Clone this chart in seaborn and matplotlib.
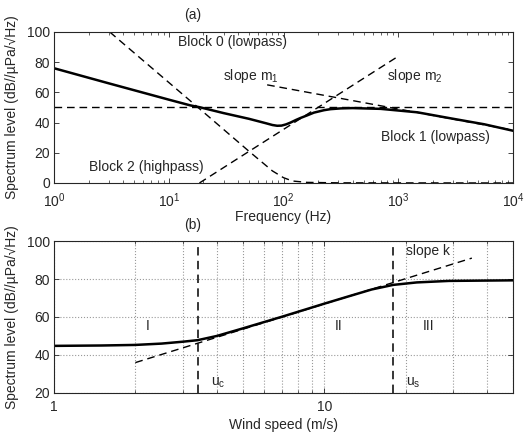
import numpy as np
import seaborn as sns
from matplotlib import pyplot as plt
from matplotlib.ticker import LogLocator, NullFormatter


# panel (a) - spectrum blocks
freq_total = [1, 3, 10, 15.4, 18.8, 30, 50, 70, 80, 88, 96, 105, 115, 128, 140, 161, 184,
              225, 257, 315, 400, 700, 1000, 1470, 2870, 5600, 10000]
level_total = [76, 66, 55.2, 51.4, 50.1, 46.3, 42.5, 39.6, 38.4, 37.9, 38.0, 38.8, 40.0,
               41.7, 43.0, 44.8, 46.6, 48.2, 48.9, 49.4, 49.6, 49.1, 48.0, 46.8, 42.8,
               38.9, 34.6]

freq_block0 = [3.06, 18, 50, 80, 100, 120, 160, 300, 10000]
level_block0 = [100, 50, 21, 8, 3.5, 1.3, 0.4, 0.1, 0]

freq_block2 = [18.5, 984]
level_block2 = [0, 83.6]

freq_m1 = [72, 10000]
level_m1 = [65, 35]

flat_level = 50

# panel (b) - wind speed dependence
wind = [1, 1.5, 2, 2.5, 3, 3.4, 4, 5, 7, 10, 12.4, 15, 18, 22, 29, 50]
level_wind = [44.8, 45.0, 45.3, 46.0, 47.0, 47.8, 50.0, 54.0, 60.2, 67.0, 71.0,
              74.5, 76.9, 78.2, 79.0, 79.3]

wind_k = [2, 35.2]
level_k = [36, 91]

u_c = 3.4
u_s = 18


sns.set_style("ticks")
plt.rcParams['font.family'] = ['Liberation Sans', 'DejaVu Sans']
plt.rcParams['font.size'] = 10
plt.rcParams['mathtext.default'] = 'regular'
plt.rcParams['lines.dashed_pattern'] = [5.5, 3.5]
plt.rcParams['xtick.direction'] = 'in'
plt.rcParams['ytick.direction'] = 'in'
plt.rcParams['xtick.top'] = True
plt.rcParams['ytick.right'] = True
plt.rcParams['xtick.major.size'] = 3.5
plt.rcParams['ytick.major.size'] = 3.5
plt.rcParams['xtick.minor.size'] = 2
plt.rcParams['xtick.major.width'] = 0.6
plt.rcParams['ytick.major.width'] = 0.6
plt.rcParams['xtick.minor.width'] = 0.5
plt.rcParams['axes.linewidth'] = 0.8
plt.rcParams['xtick.major.pad'] = 5
plt.rcParams['ytick.major.pad'] = 3

fig = plt.figure(figsize=(5.25, 4.33), dpi=100)
ax1 = fig.add_axes([0.1029, 0.5774, 0.8743, 0.3487])
ax2 = fig.add_axes([0.1029, 0.0924, 0.8743, 0.3510])

ylabel = 'Spectrum level (dB//\u00b5Pa/\u221aHz)'


##
# panel (a)
##
ax1.set_xscale('log')
ax1.axhline(flat_level, color='k', lw=1, ls='--')
sns.lineplot(x=freq_block0, y=level_block0, ax=ax1, color='k', lw=1, ls='--',
             estimator=None, sort=False)
sns.lineplot(x=freq_block2, y=level_block2, ax=ax1, color='k', lw=1, ls='--',
             estimator=None, sort=False)
sns.lineplot(x=freq_m1, y=level_m1, ax=ax1, color='k', lw=1, ls='--',
             estimator=None, sort=False)
sns.lineplot(x=freq_total, y=level_total, ax=ax1, color='k', lw=1.8,
             estimator=None, sort=False)

ax1.set_xlim(1, 1e4)
ax1.set_ylim(0, 100)
ax1.set_yticks(np.arange(0, 101, 20))
ax1.xaxis.set_minor_locator(LogLocator(subs=np.arange(2, 10)))
ax1.xaxis.set_minor_formatter(NullFormatter())
ax1.tick_params(axis='x', which='major', pad=6)

ax1.text(12.1, 93.6, 'Block 0 (lowpass)', ha='left', va='center')
ax1.text(29.7, 68, 'slope m$_1$', ha='left', va='baseline')
ax1.text(804, 68, 'slope m$_2$', ha='left', va='baseline')
ax1.text(703, 30.7, 'Block 1 (lowpass)', ha='left', va='center')
ax1.text(2.03, 10.8, 'Block 2 (highpass)', ha='left', va='center')

ax1.set_xlabel('Frequency (Hz)')
ax1.xaxis.label.set_va('center')
ax1.xaxis.set_label_coords(0.5, -0.225)
ax1.set_ylabel(ylabel)
ax1.yaxis.label.set_va('center')
ax1.yaxis.set_label_coords(-0.091, 0.5)


##
# panel (b)
##
ax2.set_xscale('log')
ax2.grid(which='both', axis='x', ls=':', color='0.6', lw=0.8)
ax2.grid(which='major', axis='y', ls=':', color='0.6', lw=0.8)
ax2.set_axisbelow(True)
ax2.axvline(u_c, color='k', lw=1.1, ls='--')
ax2.axvline(u_s, color='k', lw=1.1, ls='--')
sns.lineplot(x=wind_k, y=level_k, ax=ax2, color='k', lw=1, ls='--',
             estimator=None, sort=False)
sns.lineplot(x=wind, y=level_wind, ax=ax2, color='k', lw=1.8,
             estimator=None, sort=False)

ax2.set_xlim(1, 50)
ax2.set_ylim(20, 100)
ax2.set_yticks(np.arange(20, 101, 20))
ax2.set_xticks([1, 10], labels=['1', '10'])
ax2.xaxis.set_minor_locator(LogLocator(subs=np.arange(2, 10)))
ax2.xaxis.set_minor_formatter(NullFormatter())

ax2.text(2.22, 55, 'I', ha='center', va='center')
ax2.text(11.3, 55, 'II', ha='center', va='center')
ax2.text(24.4, 55, 'III', ha='center', va='center')
ax2.text(20.1, 94.7, 'slope k', ha='left', va='center')
ax2.text(3.82, 24, 'u$_c$', ha='left', va='baseline')
ax2.text(20.0, 24, 'u$_s$', ha='left', va='baseline')

ax2.set_xlabel('Wind speed (m/s)')
ax2.xaxis.label.set_va('center')
ax2.xaxis.set_label_coords(0.5, -0.21)
ax2.set_ylabel(ylabel)
ax2.yaxis.label.set_va('center')
ax2.yaxis.set_label_coords(-0.091, 0.5)

fig.text(0.367, 0.965, '(a)', ha='center', va='center')
fig.text(0.367, 0.480, '(b)', ha='center', va='center')

fig.savefig('out.png', dpi=100)
